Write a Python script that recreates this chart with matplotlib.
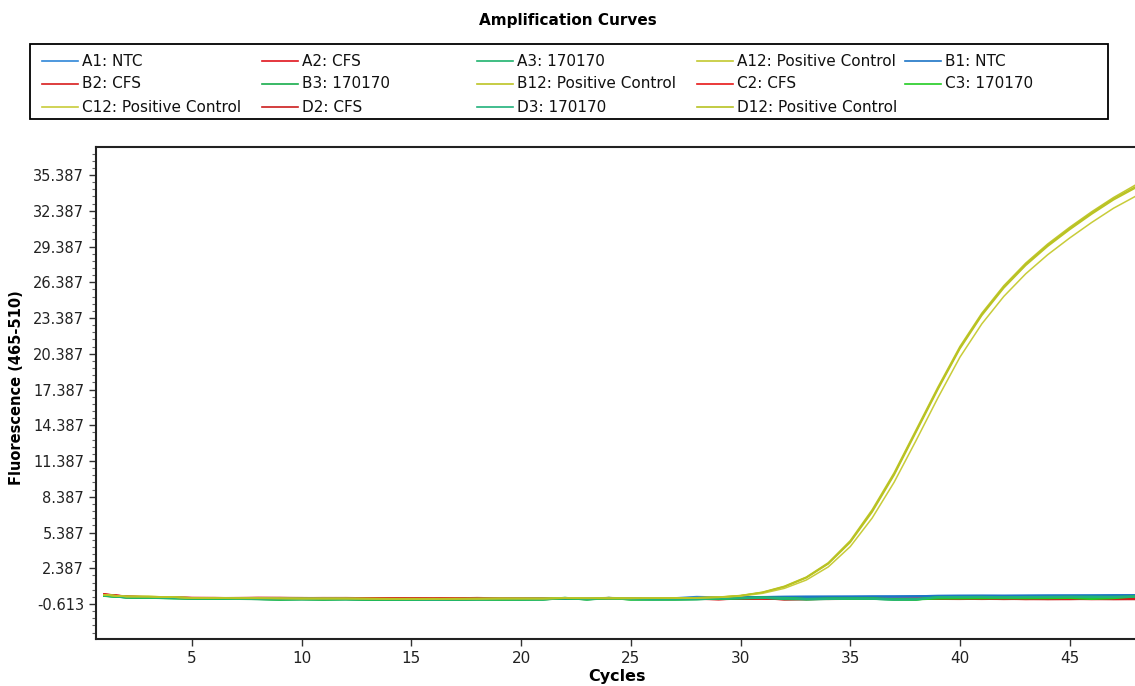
import numpy as np
import matplotlib
matplotlib.use('Agg')
import matplotlib.pyplot as plt
from matplotlib.lines import Line2D
from matplotlib.patches import Rectangle
from matplotlib.ticker import AutoMinorLocator, FixedLocator

# cycles 1..48
cycles = list(range(1, 49))

# NTC wells
A1 = [0.10, -0.04, -0.07, -0.10, -0.13, -0.14, -0.15, -0.16, -0.17, -0.17, -0.18, -0.19,
      -0.21, -0.22, -0.22, -0.21, -0.21, -0.20, -0.19, -0.19, -0.18, -0.16, -0.15, -0.15,
      -0.16, -0.16, -0.13, -0.02, -0.06, -0.05, -0.03, -0.01, 0.00, 0.00, 0.01, 0.01,
      0.02, 0.03, 0.07, 0.08, 0.08, 0.07, 0.09, 0.10, 0.10, 0.11, 0.11, 0.12]
B1 = [0.12, -0.02, -0.06, -0.09, -0.12, -0.13, -0.14, -0.14, -0.16, -0.17, -0.17, -0.18,
      -0.20, -0.21, -0.21, -0.22, -0.20, -0.19, -0.19, -0.18, -0.17, -0.17, -0.16, -0.14,
      -0.15, -0.15, -0.14, -0.10, -0.07, -0.05, -0.04, -0.02, -0.01, 0.00, 0.00, 0.02,
      0.02, 0.04, 0.06, 0.07, 0.08, 0.08, 0.08, 0.09, 0.10, 0.10, 0.12, 0.13]

# CFS wells
A2 = [0.18, 0.02, -0.04, -0.08, -0.11, -0.12, -0.12, -0.11, -0.12, -0.12, -0.11, -0.12,
      -0.14, -0.15, -0.16, -0.16, -0.15, -0.12, -0.13, -0.13, -0.14, -0.15, -0.16, -0.13,
      -0.12, -0.14, -0.15, -0.16, -0.20, -0.15, -0.14, -0.20, -0.19, -0.18, -0.17, -0.17,
      -0.18, -0.17, -0.17, -0.18, -0.18, -0.18, -0.19, -0.19, -0.18, -0.19, -0.19, -0.18]
B2 = [0.16, -0.03, -0.07, -0.09, -0.12, -0.13, -0.11, -0.10, -0.11, -0.13, -0.12, -0.11,
      -0.13, -0.16, -0.17, -0.15, -0.14, -0.11, -0.14, -0.12, -0.15, -0.14, -0.15, -0.12,
      -0.13, -0.15, -0.14, -0.17, -0.21, -0.16, -0.13, -0.22, -0.20, -0.17, -0.16, -0.18,
      -0.17, -0.16, -0.18, -0.19, -0.17, -0.19, -0.18, -0.20, -0.19, -0.18, -0.20, -0.19]
C2 = [0.20, 0.00, -0.05, -0.07, -0.10, -0.11, -0.12, -0.12, -0.13, -0.12, -0.12, -0.13,
      -0.15, -0.14, -0.15, -0.17, -0.16, -0.13, -0.12, -0.14, -0.13, -0.16, -0.14, -0.11,
      -0.14, -0.13, -0.16, -0.15, -0.19, -0.17, -0.15, -0.21, -0.18, -0.19, -0.18, -0.16,
      -0.19, -0.18, -0.16, -0.17, -0.19, -0.17, -0.20, -0.18, -0.17, -0.20, -0.18, -0.17]
D2 = [0.17, 0.01, -0.06, -0.08, -0.12, -0.11, -0.13, -0.11, -0.10, -0.11, -0.13, -0.12,
      -0.14, -0.15, -0.14, -0.16, -0.17, -0.12, -0.13, -0.15, -0.14, -0.15, -0.17, -0.14,
      -0.12, -0.14, -0.15, -0.18, -0.20, -0.16, -0.14, -0.19, -0.20, -0.18, -0.17, -0.18,
      -0.16, -0.17, -0.18, -0.17, -0.18, -0.19, -0.18, -0.19, -0.20, -0.18, -0.19, -0.20]

# 170170 wells
A3 = [0.08, -0.05, -0.08, -0.11, -0.14, -0.15, -0.17, -0.19, -0.24, -0.20, -0.24, -0.21,
      -0.24, -0.25, -0.25, -0.25, -0.24, -0.22, -0.24, -0.23, -0.22, -0.10, -0.23, -0.10,
      -0.22, -0.23, -0.22, -0.20, -0.16, -0.12, -0.08, -0.20, -0.22, -0.18, -0.16, -0.17,
      -0.24, -0.24, -0.05, -0.04, -0.03, -0.06, -0.04, -0.03, -0.02, -0.01, -0.04, 0.00]
B3 = [0.09, -0.06, -0.09, -0.12, -0.15, -0.16, -0.18, -0.20, -0.23, -0.22, -0.23, -0.20,
      -0.25, -0.26, -0.24, -0.24, -0.25, -0.23, -0.22, -0.22, -0.23, -0.12, -0.22, -0.14,
      -0.21, -0.22, -0.23, -0.21, -0.15, -0.11, -0.09, -0.12, -0.21, -0.19, -0.17, -0.18,
      -0.22, -0.23, -0.06, -0.05, -0.04, -0.05, -0.03, -0.04, -0.03, -0.02, -0.02, -0.01]
C3 = [0.07, -0.04, -0.08, -0.12, -0.13, -0.16, -0.16, -0.18, -0.22, -0.19, -0.22, -0.20,
      -0.23, -0.24, -0.26, -0.25, -0.23, -0.21, -0.23, -0.24, -0.21, -0.11, -0.21, -0.11,
      -0.23, -0.21, -0.21, -0.19, -0.17, -0.13, -0.10, -0.11, -0.20, -0.17, -0.18, -0.16,
      -0.21, -0.22, -0.15, -0.14, -0.13, -0.12, -0.13, -0.12, -0.10, -0.18, -0.12, 0.02]
D3 = [0.10, -0.05, -0.07, -0.10, -0.14, -0.15, -0.17, -0.19, -0.21, -0.21, -0.21, -0.22,
      -0.22, -0.23, -0.24, -0.26, -0.24, -0.22, -0.21, -0.23, -0.22, -0.13, -0.20, -0.12,
      -0.20, -0.22, -0.21, -0.20, -0.16, -0.12, -0.09, -0.13, -0.19, -0.18, -0.16, -0.17,
      -0.23, -0.21, -0.04, -0.03, -0.02, -0.05, -0.03, -0.02, -0.01, -0.03, -0.02, 0.01]

# Positive controls
A12 = [0.15, 0.02, 0.02, -0.03, -0.10, -0.12, -0.13, -0.12, -0.14, -0.15, -0.15, -0.14,
       -0.16, -0.18, -0.17, -0.16, -0.17, -0.16, -0.15, -0.14, -0.15, -0.12, -0.13, -0.14,
       -0.13, -0.12, -0.10, -0.08, -0.03, 0.10, 0.38, 0.88, 1.65, 2.85, 4.70, 7.30,
       10.40, 14.00, 17.60, 21.00, 23.80, 26.10, 28.00, 29.60, 31.00, 32.30, 33.50, 34.55]
B12 = [0.14, 0.03, 0.01, -0.02, -0.11, -0.13, -0.12, -0.13, -0.15, -0.14, -0.16, -0.15,
       -0.17, -0.17, -0.18, -0.17, -0.16, -0.15, -0.16, -0.15, -0.14, -0.13, -0.14, -0.13,
       -0.14, -0.13, -0.11, -0.09, -0.05, 0.08, 0.34, 0.82, 1.58, 2.75, 4.55, 7.10,
       10.20, 13.80, 17.40, 20.80, 23.60, 25.90, 27.80, 29.40, 30.80, 32.10, 33.30, 34.30]
C12 = [0.16, 0.01, 0.03, -0.04, -0.09, -0.12, -0.14, -0.13, -0.13, -0.16, -0.14, -0.15,
       -0.15, -0.16, -0.17, -0.18, -0.16, -0.17, -0.14, -0.15, -0.16, -0.12, -0.12, -0.15,
       -0.14, -0.12, -0.12, -0.10, -0.06, 0.05, 0.28, 0.70, 1.40, 2.50, 4.20, 6.60,
       9.60, 13.10, 16.70, 20.10, 22.90, 25.20, 27.10, 28.70, 30.10, 31.40, 32.60, 33.60]
D12 = [0.15, 0.02, 0.00, -0.03, -0.10, -0.11, -0.13, -0.14, -0.14, -0.15, -0.15, -0.16,
       -0.16, -0.17, -0.16, -0.17, -0.18, -0.16, -0.15, -0.16, -0.15, -0.13, -0.13, -0.13,
       -0.12, -0.13, -0.11, -0.09, -0.04, 0.09, 0.36, 0.85, 1.62, 2.80, 4.62, 7.20,
       10.30, 13.90, 17.50, 20.90, 23.70, 26.00, 27.90, 29.50, 30.90, 32.20, 33.40, 34.40]

# legend order is row-major like the instrument software
labels = ['A1: NTC', 'A2: CFS', 'A3: 170170', 'A12: Positive Control', 'B1: NTC',
          'B2: CFS', 'B3: 170170', 'B12: Positive Control', 'C2: CFS', 'C3: 170170',
          'C12: Positive Control', 'D2: CFS', 'D3: 170170', 'D12: Positive Control']
series = [A1, A2, A3, A12, B1, B2, B3, B12, C2, C3, C12, D2, D3, D12]
colors = ['#2f86d8', '#e0141c', '#1fb36e', '#c2c830', '#1d74c6',
          '#d81c1c', '#18ad4c', '#bcc424', '#e81818', '#22cc22',
          '#c8cc3a', '#cc1e1e', '#21b27c', '#b8c222']

W, H = 1135, 686
fig = plt.figure(figsize=(W / 100, H / 100), dpi=100)
ax = fig.add_axes([96 / W, 1 - 639 / H, (W - 96) / W, (639 - 147) / H])

# draw baselines first, positive controls on top
order = [1, 5, 8, 11, 0, 4, 2, 6, 9, 12, 3, 7, 10, 13]
for i in order:
    lw = 1.1 if 'Positive' in labels[i] else 1.6
    ax.plot(cycles, series[i], color=colors[i], lw=lw)

ax.set_xlim(0.625, 47.98)
ax.set_ylim(-3.55, 37.74)

yt = np.arange(-0.613, 36, 3.0)
ax.yaxis.set_major_locator(FixedLocator(yt))
ax.set_yticklabels(['%.3f' % v for v in yt])
ax.yaxis.set_minor_locator(AutoMinorLocator(5))
ax.set_xticks([5, 10, 15, 20, 25, 30, 35, 40, 45])

ax.tick_params(axis='both', which='major', length=5, width=1, colors='#333333',
               labelsize=10.5, labelcolor='#222222')
ax.tick_params(axis='x', which='major', labelsize=11)
ax.tick_params(axis='y', which='minor', length=3, width=0.8, colors='#666666')
for s in ['left', 'bottom', 'top']:
    ax.spines[s].set_linewidth(1.5)
    ax.spines[s].set_color('#222222')
ax.spines['right'].set_visible(False)

fig.text(0.5, 1 - 20 / H, 'Amplification Curves', ha='center', va='center',
         fontsize=11, fontweight='bold')
fig.text(17 / W, 1 - 388 / H, 'Fluorescence (465-510)', rotation=90, ha='center',
         va='center', fontsize=10.5, fontweight='bold')
fig.text(617 / W, 1 - 677 / H, 'Cycles', ha='center', va='center',
         fontsize=11.5, fontweight='bold')

# legend box
fig.add_artist(Rectangle((30 / W, 1 - 119 / H), (1108 - 30) / W, (119 - 44) / H,
                         transform=fig.transFigure, fill=False, edgecolor='black', lw=1.3))
col_x = [42, 262, 477, 697, 905]
row_y = [61, 84, 107]
for k, (lab, c) in enumerate(zip(labels, colors)):
    r, cidx = divmod(k, 5)
    x0 = col_x[cidx]
    y0 = 1 - row_y[r] / H
    fig.add_artist(Line2D([x0 / W, (x0 + 36) / W], [y0, y0], transform=fig.transFigure,
                          color=c, lw=1.2))
    fig.text((x0 + 40) / W, y0, lab, ha='left', va='center', fontsize=11, color='#111111')

fig.savefig('out.png', dpi=100)
